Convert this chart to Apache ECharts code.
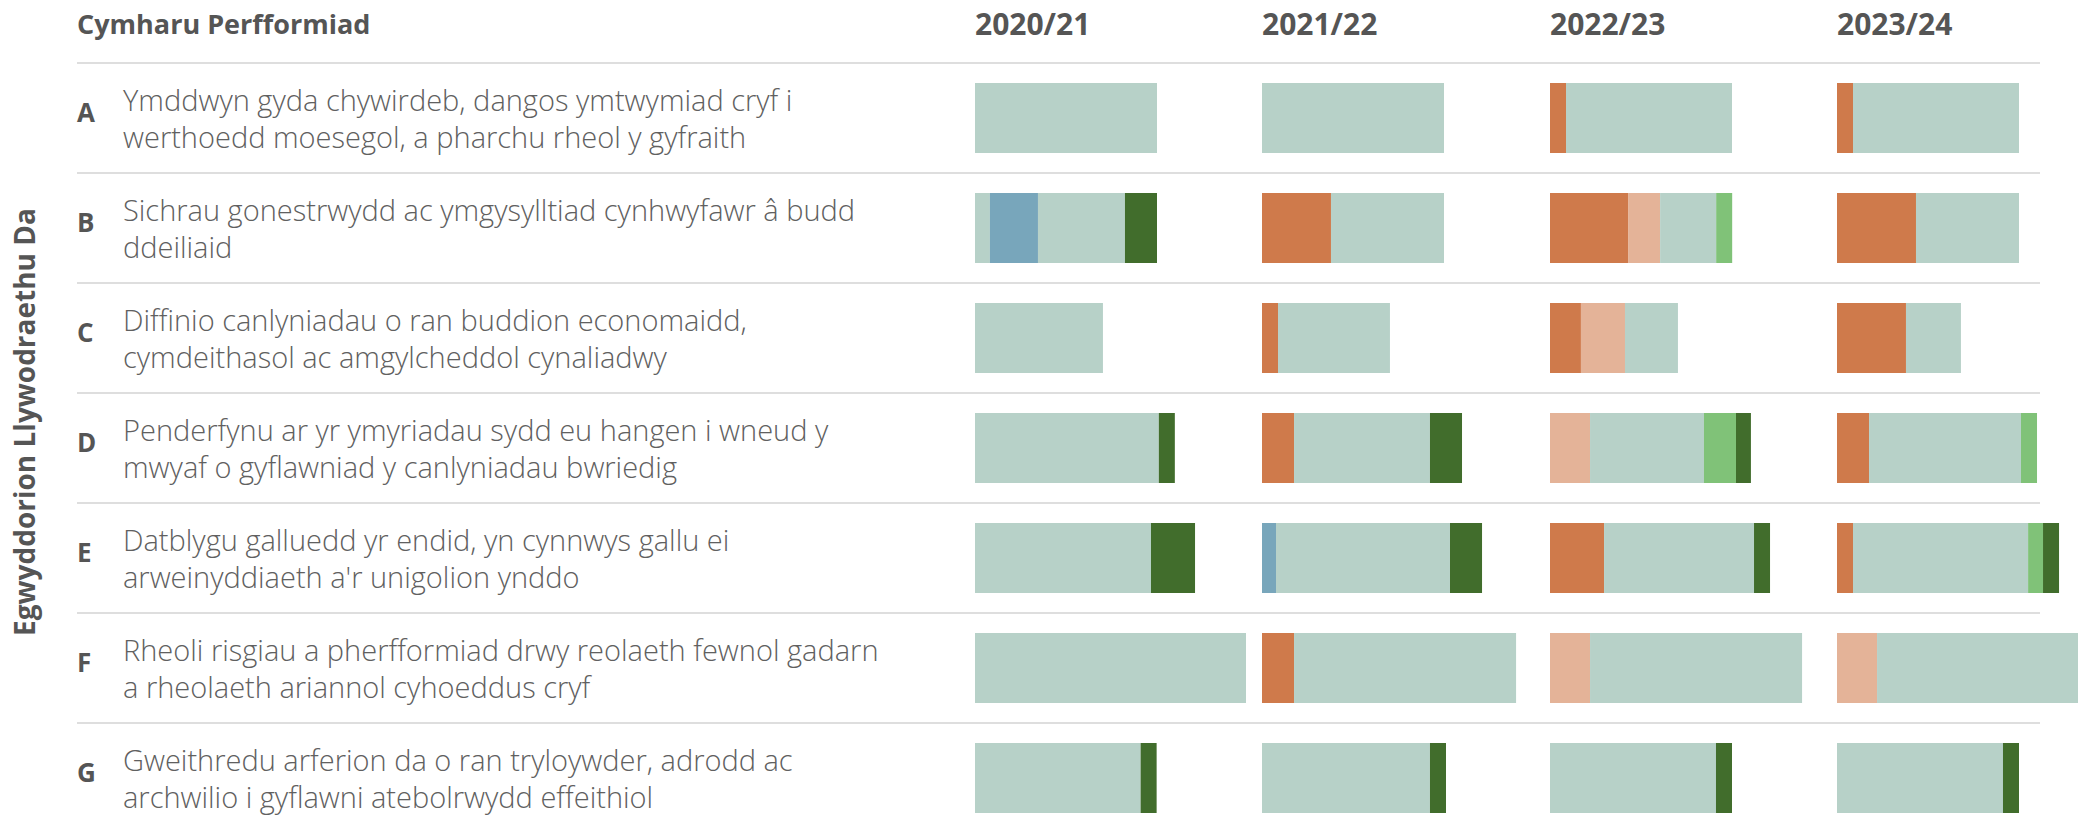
<!DOCTYPE html>
<html>
<head>
<meta charset="utf-8">
<script src="https://cdn.jsdelivr.net/npm/echarts@6/dist/echarts.min.js"></script>
<style>
  html, body { margin: 0; padding: 0; background: #ffffff; }
  #chart { width: 2078px; height: 827px; }
</style>
</head>
<body>
<div id="chart"></div>
<script>
// ---- data ----
const chartTitle = 'Cymharu Perfformiad';
const axisTitle = 'Egwyddorion Llywodraethu Da';
const years = ['2020/21', '2021/22', '2022/23', '2023/24'];
const letters = ['A', 'B', 'C', 'D', 'E', 'F', 'G'];
const principles = [
  'Ymddwyn gyda chywirdeb, dangos ymtwymiad cryf i\nwerthoedd moesegol, a pharchu rheol y gyfraith',
  'Sichrau gonestrwydd ac ymgysylltiad cynhwyfawr â budd\nddeiliaid',
  'Diffinio canlyniadau o ran buddion economaidd,\ncymdeithasol ac amgylcheddol cynaliadwy',
  'Penderfynu ar yr ymyriadau sydd eu hangen i wneud y\nmwyaf o gyflawniad y canlyniadau bwriedig',
  'Datblygu galluedd yr endid, yn cynnwys gallu ei\narweinyddiaeth a\'r unigolion ynddo',
  'Rheoli risgiau a pherfformiad drwy reolaeth fewnol gadarn\na rheolaeth ariannol cyhoeddus cryf',
  'Gweithredu arferion da o ran tryloywder, adrodd ac\narchwilio i gyflawni atebolrwydd effeithiol'
];
// values per year (rows A..G), stacked left to right in this order
const orange = [
  [0, 0, 0, 0, 0, 0, 0],
  [0, 3.79, 0.88, 1.76, 0, 1.76, 0],
  [0.88, 4.29, 1.70, 0, 2.97, 0, 0],
  [0.88, 4.34, 3.79, 1.76, 0.88, 0, 0]
];
const peach = [
  [0, 0, 0, 0, 0, 0, 0],
  [0, 0, 0, 0, 0, 0, 0],
  [0, 1.76, 2.42, 2.2, 0, 2.2, 0],
  [0, 0, 0, 0, 0, 2.2, 0]
];
const tealBefore = [
  [0, 0.82, 0, 0, 0, 0, 0],
  [0, 0, 0, 0, 0, 0, 0],
  [0, 0, 0, 0, 0, 0, 0],
  [0, 0, 0, 0, 0, 0, 0]
];
const blue = [
  [0, 2.64, 0, 0, 0, 0, 0],
  [0, 0, 0, 0, 0.77, 0, 0],
  [0, 0, 0, 0, 0, 0, 0],
  [0, 0, 0, 0, 0, 0, 0]
];
const teal = [
  [10.0, 4.78, 7.03, 10.1, 9.67, 14.89, 9.1],
  [10.0, 6.21, 6.15, 7.47, 9.56, 12.2, 9.23],
  [9.12, 3.08, 2.91, 6.26, 8.24, 11.65, 9.12],
  [9.12, 5.66, 3.02, 8.35, 9.62, 11.65, 9.12]
];
const lightGreen = [
  [0, 0, 0, 0, 0, 0, 0],
  [0, 0, 0, 0, 0, 0, 0],
  [0, 0.88, 0, 1.76, 0, 0, 0],
  [0, 0, 0, 0.88, 0.82, 0, 0]
];
const darkGreen = [
  [0, 1.76, 0, 0.88, 2.42, 0, 0.88],
  [0, 0, 0, 1.76, 1.76, 0, 0.88],
  [0, 0, 0, 0.82, 0.88, 0, 0.88],
  [0, 0, 0, 0, 0.88, 0, 0.88]
];

// ---- styling ----
const segs = [
  { data: orange, color: '#cf7a4b' },
  { data: peach, color: '#e4b398' },
  { data: tealBefore, color: '#b7d1c8' },
  { data: blue, color: '#78a6bb' },
  { data: teal, color: '#b7d1c8' },
  { data: lightGreen, color: '#80c278' },
  { data: darkGreen, color: '#416d2c' }
];
const textColor = '#555555';
const gridTop = 63, gridHeight = 770;
const colLeft = [975, 1262, 1550, 1837];
const colWidth = 273, colMax = 15;

const grids = [{ left: 77, top: gridTop, width: 1963, height: gridHeight, outerBoundsMode: 'none', containLabel: false }];
const xAxes = [{ gridIndex: 0, type: 'value', show: false }];
const yAxes = [
  {
    gridIndex: 0, type: 'category', position: 'left', data: letters, inverse: true,
    axisLine: { show: false }, axisTick: { show: false },
    splitLine: { show: true, interval: 0, lineStyle: { color: '#dedede', width: 2 } },
    axisLabel: { interval: 0, align: 'left', margin: 0,
      formatter: (v) => '{l|' + v + '}',
      rich: { l: { color: textColor, fontFamily: 'Open Sans', fontWeight: 'bold', fontSize: 26,
        lineHeight: 30, padding: [0, 0, 13, 0] } } }
  },
  {
    gridIndex: 0, type: 'category', position: 'left', offset: 0, data: principles, inverse: true,
    axisLine: { show: false }, axisTick: { show: false }, splitLine: { show: false },
    axisLabel: { interval: 0, align: 'left', margin: -46, color: '#606060', padding: [0, 0, 6, 0],
      fontFamily: 'Open Sans', fontWeight: 300, fontSize: 29, lineHeight: 37 }
  }
];
const series = [];
const titles = [{ text: chartTitle, left: 77, top: 10, padding: 0,
  textStyle: { color: textColor, fontFamily: 'Open Sans', fontWeight: 'bold', fontSize: 27 } }];

years.forEach((y, i) => {
  grids.push({ left: colLeft[i], top: gridTop, width: colWidth, height: gridHeight, outerBoundsMode: 'none', containLabel: false });
  xAxes.push({ gridIndex: i + 1, type: 'value', min: 0, max: colMax, show: false });
  yAxes.push({ gridIndex: i + 1, type: 'category', data: letters, inverse: true, show: false });
  titles.push({ text: y, left: colLeft[i], top: 8, padding: 0,
    textStyle: { color: textColor, fontFamily: 'Open Sans', fontWeight: 'bold', fontSize: 30 } });
  segs.forEach((s) => {
    series.push({
      type: 'bar', xAxisIndex: i + 1, yAxisIndex: i + 2, stack: 'yr' + i,
      barWidth: 70, data: s.data[i], itemStyle: { color: s.color },
      silent: true, clip: false
    });
  });
});

const chart = echarts.init(document.getElementById('chart'), null, { renderer: 'svg' });
chart.setOption({
  animation: false,
  backgroundColor: '#ffffff',
  title: titles,
  grid: grids,
  xAxis: xAxes,
  yAxis: yAxes,
  series: series,
  graphic: [{
    type: 'text', x: 24, y: 422, rotation: Math.PI / 2,
    style: { text: axisTitle, fill: textColor, align: 'center', verticalAlign: 'middle',
      font: 'bold 28px "Open Sans"' }
  }]
});
</script>
</body>
</html>
